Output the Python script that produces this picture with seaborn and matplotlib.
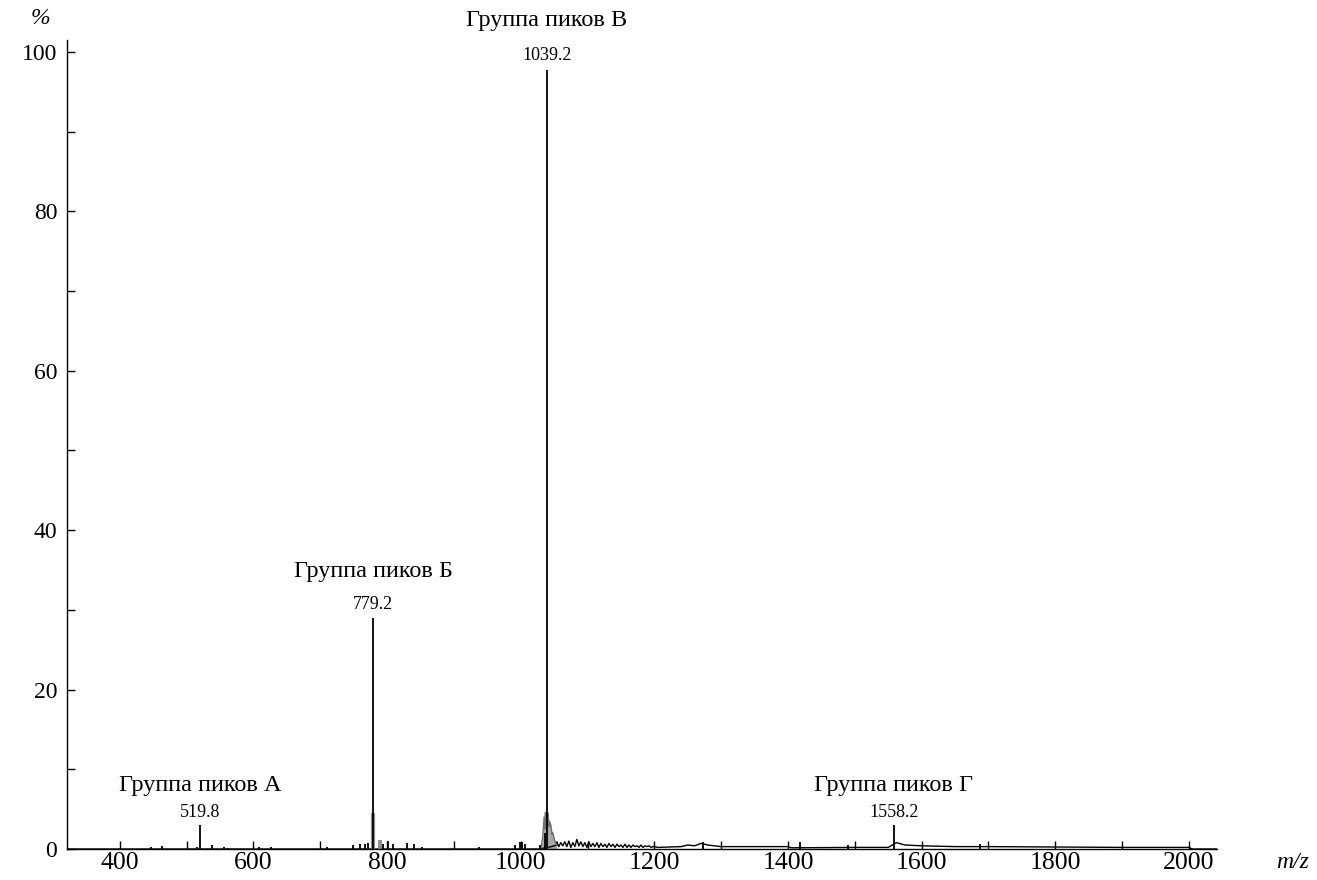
import matplotlib
matplotlib.use("Agg")
import matplotlib.pyplot as plt
import seaborn as sns
import numpy as np
import pandas as pd

# пики масс-спектра (m/z, интенсивность %)
peak_mz = [446, 463, 515, 519.8, 538, 556, 562, 609, 627, 710, 749, 759, 767, 771,
           779.2, 794, 801, 809, 830, 840, 852, 937, 991, 999, 1002, 1006, 1029,
           1036, 1039.2, 1273, 1418, 1490, 1558.2, 1687]
peak_int = [0.2, 0.4, 0.3, 3.0, 0.5, 0.2, 0.1, 0.3, 0.2, 0.2, 0.5, 0.6, 0.6, 0.8,
            29.0, 0.6, 1.0, 0.6, 0.8, 0.6, 0.3, 0.2, 0.5, 0.9, 0.9, 0.6, 0.5,
            2.0, 97.7, 0.9, 0.9, 0.5, 3.0, 0.6]

# серые (размытые) пики
grey_mz = [779.2, 789]
grey_int = [4.5, 1.1]
hump_mz = [1030, 1033, 1035, 1036, 1037, 1038, 1039, 1041, 1042, 1043, 1045, 1047, 1048, 1051, 1054]
hump_int = [0, 1.5, 4.0, 2.5, 4.6, 3.0, 4.3, 4.5, 2.8, 3.5, 3.0, 1.8, 2.0, 1.0, 0.5]

# шум после 1040
noise_mz = [1054, 1057, 1060, 1063, 1066, 1069, 1072, 1075, 1078, 1081,
            1084, 1087, 1090, 1093, 1096, 1099, 1102, 1105, 1108, 1111,
            1114, 1117, 1120, 1123, 1126, 1129, 1132, 1135, 1138, 1141,
            1144, 1147, 1150, 1153, 1156, 1159, 1162, 1165, 1168, 1171,
            1174, 1177, 1180, 1183, 1186, 1189, 1192, 1195, 1198]
noise_int = [0.9, 0.3, 0.8, 0.4, 0.9, 0.3, 1.0, 0.2, 0.8, 0.3,
             1.2, 0.4, 0.9, 0.3, 0.8, 0.2, 0.9, 0.3, 0.7, 0.3,
             0.8, 0.2, 0.7, 0.3, 0.6, 0.2, 0.7, 0.3, 0.6, 0.2,
             0.6, 0.3, 0.5, 0.2, 0.6, 0.2, 0.5, 0.2, 0.5, 0.3,
             0.4, 0.2, 0.5, 0.2, 0.4, 0.3, 0.4, 0.2, 0.3]

# базовая линия
base_left_mz = [321, 1028, 1046, 1054]
base_left_int = [0, 0, 0.3, 0.5]
base_right_mz = [1200, 1205, 1240, 1250, 1260, 1270, 1280, 1290, 1300, 1400,
                 1405, 1500, 1550, 1562, 1575, 1600, 1650, 1700, 1800, 1900, 2000, 2005, 2042]
base_right_int = [0.3, 0.2, 0.3, 0.5, 0.4, 0.7, 0.5, 0.4, 0.3, 0.3,
                  0.15, 0.2, 0.2, 0.8, 0.5, 0.4, 0.3, 0.3, 0.25, 0.2, 0.2, 0, 0]

labels = [("Группа пиков А", "519.8", 519.8, 8.0, 4.6),
          ("Группа пиков Б", "779.2", 779.2, 34.8, 30.7),
          ("Группа пиков В", "1039.2", 1039.2, 104.0, 99.6),
          ("Группа пиков Г", "1558.2", 1558.2, 8.0, 4.6)]

sns.set_style("white")
plt.rcParams['font.family'] = ['Liberation Serif', 'DejaVu Serif']
plt.rcParams['text.color'] = 'black'
plt.rcParams['xtick.color'] = 'black'
plt.rcParams['ytick.color'] = 'black'

fig = plt.figure(figsize=(13.17, 8.80), dpi=100)
ax = fig.add_axes([67/1317, 1 - 849/880, (1217 - 67)/1317, (849 - 40)/880])

line = pd.DataFrame({
    "mz": base_left_mz + noise_mz + base_right_mz,
    "I": base_left_int + noise_int + base_right_int,
})
sns.lineplot(data=line, x="mz", y="I", ax=ax, color="black", lw=1.0,
             estimator=None, sort=False)

hump = pd.DataFrame({"mz": hump_mz, "I": hump_int})
ax.fill_between(hump["mz"], 0, hump["I"], color="#a8a8a8", lw=0)
sns.lineplot(data=hump, x="mz", y="I", ax=ax, color="#707070", lw=1.0,
             estimator=None, sort=False)

ax.vlines(grey_mz, 0, grey_int, color="#909090", lw=3.0)
ax.vlines(peak_mz, 0, peak_int, color="black", lw=1.3)

for name, num, x, y1, y2 in labels:
    ax.text(x, y1, name, ha="center", va="center", fontsize=17.5, clip_on=False)
    ax.text(x, y2, num, ha="center", va="center", fontsize=13, clip_on=False)

ax.set_xlim(321, 2042)
ax.set_ylim(0, (849 - 40) / 7.97)
ax.set_xticks(np.arange(400, 2001, 200))
ax.set_xticks(np.arange(400, 2001, 100), minor=True)
ax.set_yticks(np.arange(0, 101, 20))
ax.set_yticks(np.arange(0, 101, 10), minor=True)
ax.tick_params(axis="both", which="both", direction="in", length=6, width=1,
               color="black", bottom=True, left=True, top=False, right=False)
ax.tick_params(axis="x", which="major", labelsize=18.5, pad=2, labelcolor="black")
ax.tick_params(axis="y", which="major", labelsize=17, pad=7, labelcolor="black")
ax.set_xlabel("")
ax.set_ylabel("")

sns.despine(ax=ax, top=True, right=True)
for s in ["left", "bottom"]:
    ax.spines[s].set_color("black")
    ax.spines[s].set_linewidth(1.0)

fig.text(40/1317, 1 - 18/880, "%", fontsize=17, style="italic", ha="center", va="center")
fig.text(1293/1317, 1 - 862/880, "m/z", fontsize=17, style="italic", ha="center", va="center")

fig.savefig("out.png", dpi=100, facecolor="white")
